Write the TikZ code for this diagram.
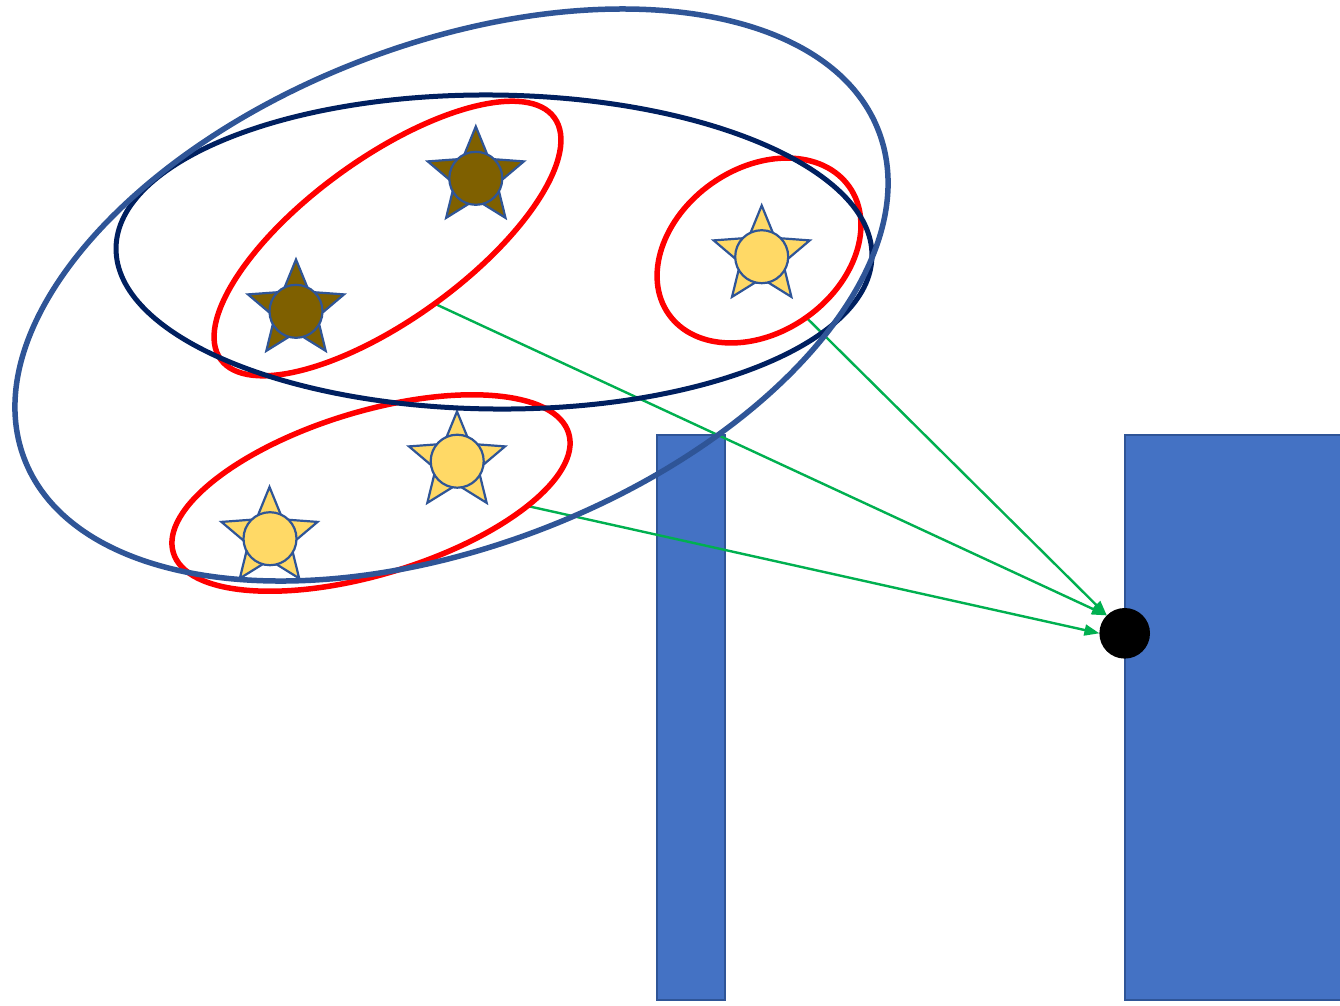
\documentclass[tikz,border=0pt]{standalone}
\usetikzlibrary{shapes.geometric,arrows.meta}
\definecolor{redE}{HTML}{FF0000}
\definecolor{navyE}{HTML}{002060}
\definecolor{blueE}{HTML}{2F5597}
\definecolor{greenA}{HTML}{00B050}
\definecolor{rectF}{HTML}{4472C4}
\definecolor{brownS}{HTML}{7F6000}
\definecolor{yellowS}{HTML}{FFD966}
\pgfdeclarelayer{fg}
\pgfsetlayers{main,fg}
\begin{document}
\begin{tikzpicture}[x=1pt,y=-1pt,
  ell/.style={ellipse, inner sep=0pt, outer sep=0pt, draw},
  redell/.style={ell, draw=redE, line width=5.5pt},
  starshape/.style={star, star points=5, star point ratio=2.25, minimum size=101pt, inner sep=0pt, outer sep=0pt, draw=blueE, line width=2.2pt},
  disc/.style={circle, inner sep=0pt, outer sep=0pt, minimum size=53pt, draw=blueE, line width=2.2pt},
  bar/.style={rectangle, draw=blueE, fill=rectF, line width=1.8pt, inner sep=0pt, outer sep=0pt, anchor=north west},
  link/.style={draw=greenA, line width=2.4pt, -{Triangle[length=15pt,width=11pt]}}
]
\useasboundingbox (0,0) rectangle (1340,1005);
\clip (0,0) rectangle (1340,1005);
\fill[white] (0,0) rectangle (1340,1005);

% bars
\node[bar, minimum width=68pt, minimum height=565pt] (barL) at (657,435) {};
\node[bar, minimum width=230pt, minimum height=565pt] (barR) at (1125,435) {};
% target dot
\node[circle, fill=black, inner sep=0pt, outer sep=0pt, minimum size=50.6pt] (dot) at (1124.7,633.3) {};

\begin{pgfonlayer}{fg}
  % stars
  \node[starshape, fill=brownS] (s1) at (475.8,177) {};
  \node[disc, fill=brownS] (c1) at (475.8,178.3) {};
  \node[starshape, fill=brownS] (s2) at (296,310) {};
  \node[disc, fill=brownS] (c2) at (296,311.3) {};
  \node[starshape, fill=yellowS] (s3) at (761.7,256) {};
  \node[disc, fill=yellowS] (c3) at (761.7,256.7) {};
  \node[starshape, fill=yellowS] (s4) at (457,462) {};
  \node[disc, fill=yellowS] (c4) at (457.2,461.2) {};
  \node[starshape, fill=yellowS] (s5) at (269.5,537.5) {};
  \node[disc, fill=yellowS] (c5) at (270,538.7) {};
  % groups
  \node[redell, rotate=35.9, minimum width=412pt, minimum height=161pt] (g1) at (387.5,238.5) {};
  \node[redell, rotate=35.2, minimum width=221pt, minimum height=164pt] (g2) at (759,250.5) {};
  \node[redell, rotate=16.8, minimum width=413pt, minimum height=163pt] (g3) at (371,493) {};
  \node[ell, draw=navyE, line width=5pt, rotate=-0.6, minimum width=756pt, minimum height=314pt] (h1) at (494,252) {};
  \node[ell, draw=blueE, line width=5.5pt, rotate=21, minimum width=915pt, minimum height=502pt] (h2) at (451.5,295) {};
\end{pgfonlayer}

% connectors
\draw[link] (g1.south) -- (dot.north west);
\draw[link] (g2.south) -- (dot.north west);
\draw[link] (g3.south east) -- (dot.west);
\end{tikzpicture}
\end{document}
